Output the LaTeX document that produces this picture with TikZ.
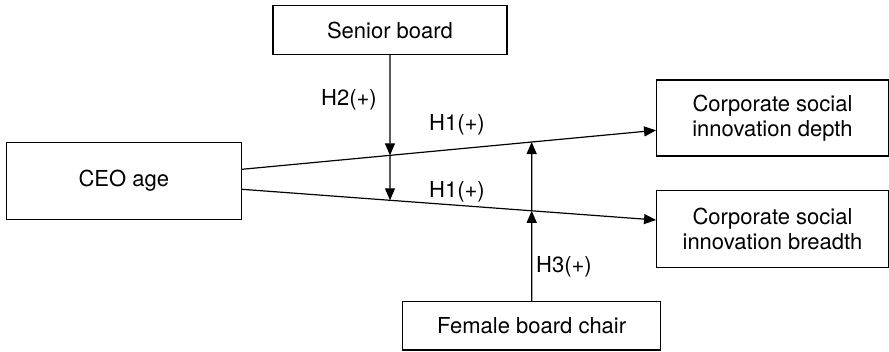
\documentclass[tikz,border=0pt]{standalone}
\usepackage{fontspec}
\setmainfont{TeX Gyre Heros}
\usetikzlibrary{arrows.meta,calc}
\begin{document}
\begin{tikzpicture}[x=1pt,y=-1pt,
  box/.style={draw=black,line width=1.2pt,inner sep=0pt,align=center,font=\fontsize{22}{25}\selectfont},
  lbl/.style={inner sep=0pt,font=\fontsize{22}{25}\selectfont},
  arr/.style={line width=1.2pt,-{Triangle[length=12pt,width=10pt]}},
  ln/.style={line width=1.2pt}]
\useasboundingbox (0,0) rectangle (889,351);
\node[box,minimum width=234pt,minimum height=48.7pt] (sb) at (390,30) {Senior board};
\node[box,minimum width=235pt,minimum height=77pt] (ceo) at (123.8,180.7) {CEO age};
\node[box,minimum width=231.7pt,minimum height=76pt] (dep) at (772.5,118) {Corporate social\\innovation depth};
\node[box,minimum width=231.7pt,minimum height=76.6pt] (bre) at (772.5,229) {Corporate social\\innovation breadth};
\node[box,minimum width=258pt,minimum height=48.7pt] (fbc) at (531.7,325.7) {Female board chair};
% connector end points
\coordinate (ceoU) at ($(ceo.east)+(0,-11.4)$);
\coordinate (ceoL) at ($(ceo.east)+(0,8.6)$);
\coordinate (depW) at ($(dep.west)+(0,12.3)$);
\coordinate (breW) at ($(bre.west)+(0,-9)$);
\draw[arr] (ceoU) -- (depW);
\draw[arr] (ceoL) -- (breW);
\coordinate (sbdown) at (sb.south |- fbc.north);
\coordinate (fbcup) at (fbc.north |- sb.south);
\coordinate (p1) at (intersection of sb.south--sbdown and ceoU--depW);
\coordinate (p2) at (intersection of sb.south--sbdown and ceoL--breW);
\coordinate (q1) at (intersection of fbc.north--fbcup and ceoU--depW);
\coordinate (q2) at (intersection of fbc.north--fbcup and ceoL--breW);
\draw[arr] (sb.south) -- (p1);
\draw[arr] (p1) -- (p2);
\draw[arr] (fbc.north) -- (q2);
\draw[arr] (q2) -- (q1);
\node[lbl] (h2) at (349,100) {H2(+)};
\node[lbl] (h1a) at (457,125) {H1(+)};
\node[lbl] (h1b) at (457,191.7) {H1(+)};
\node[lbl] (h3) at (564,266.7) {H3(+)};
\end{tikzpicture}
\end{document}
